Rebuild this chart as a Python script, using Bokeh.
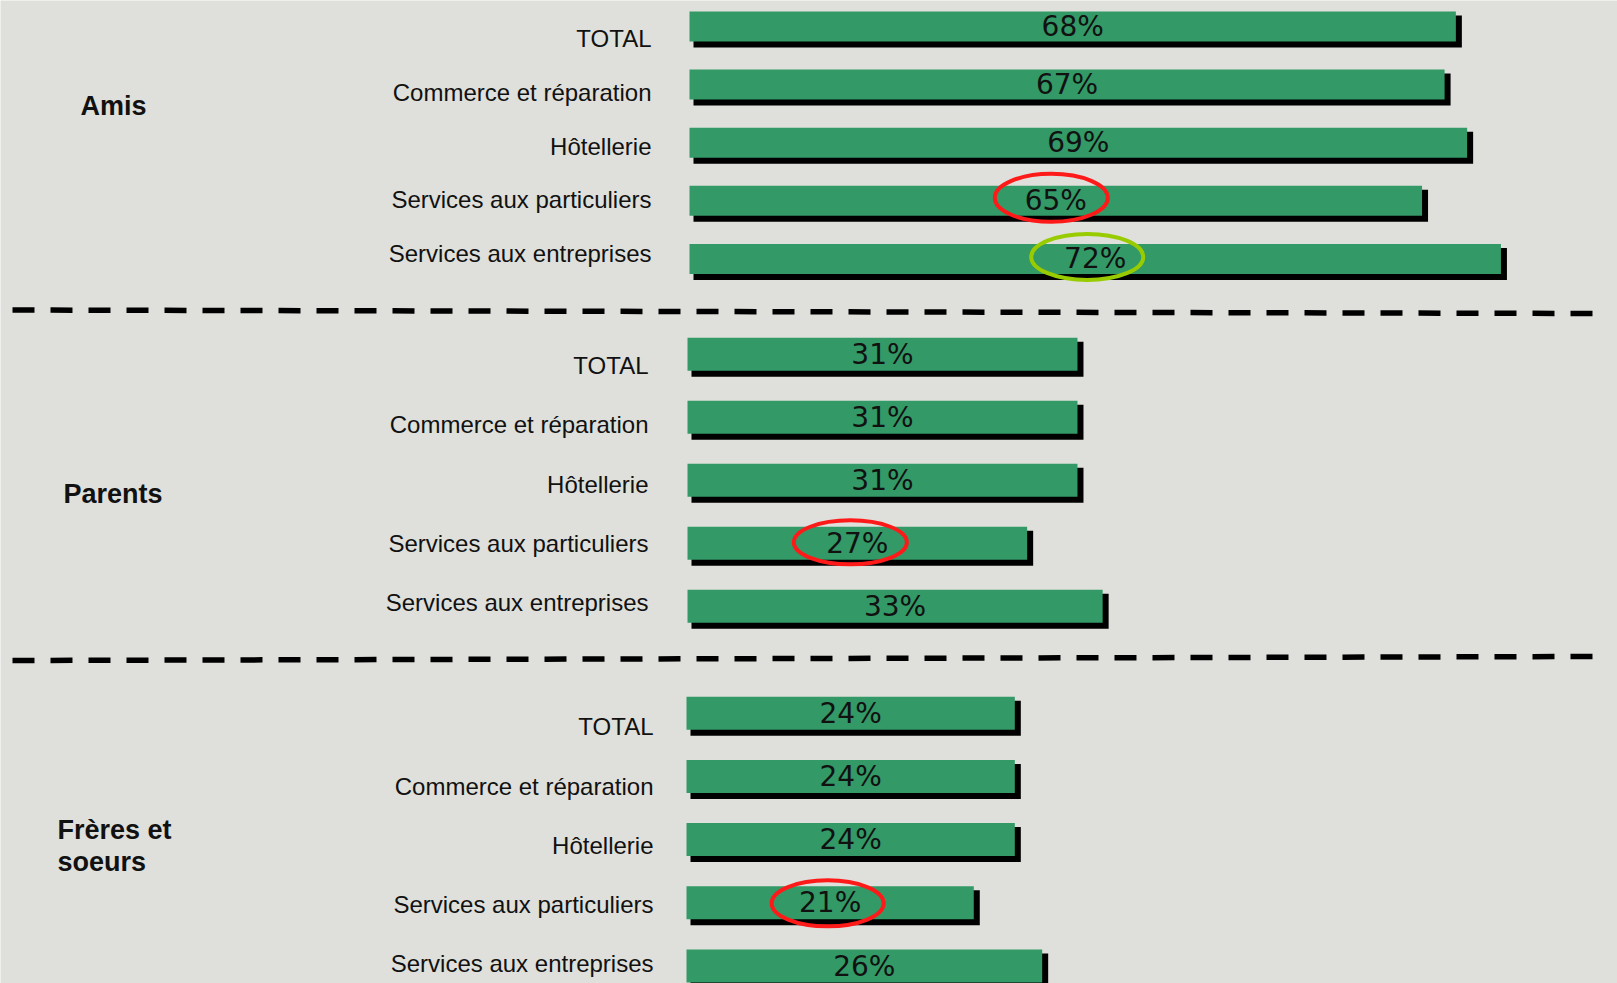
from bokeh.plotting import figure
from bokeh.models import Range1d
from bokeh.core.properties import value
from bokeh.embed import file_html
from bokeh.resources import INLINE

# ---------------- data ----------------
categories = ["TOTAL", "Commerce et réparation", "Hôtellerie",
              "Services aux particuliers", "Services aux entreprises"]
group_names = ["Amis", "Parents", "Frères et\nsoeurs"]
amis = [68, 67, 69, 65, 72]
parents = [31, 31, 31, 27, 33]
freres = [24, 24, 24, 21, 26]
series = [amis, parents, freres]
# highlighted cells: (group index, category index, colour)
highlights = [(0, 3, "#ff1a1a"), (0, 4, "#99cc00"), (1, 3, "#ff1a1a"), (2, 3, "#ff1a1a")]

# ---------------- layout (page pixels) ----------------
BG = "#dfe0db"
GREEN = "#339966"
W, H = 1617, 983
layout = [
    dict(x0=689, ppp=11.27, c0=26.0, step=58.1, bh=30,
         l0=38.0, lstep=53.75, lright=651, gx=80, gy=[105],
         sep=(12, 309.5, 1602, 313.0),
         ell=[(-4.5, -3.0, 113, 48), (-8.0, -2.0, 112, 46)]),
    dict(x0=687, ppp=12.58, c0=353.8, step=63.0, bh=33,
         l0=365.0, lstep=59.3, lright=648, gx=63, gy=[493],
         sep=(12, 660.0, 1603, 656.0),
         ell=[(-7.0, -1.0, 113, 44)]),
    dict(x0=686, ppp=13.68, c0=712.7, step=63.2, bh=33,
         l0=726.4, lstep=59.25, lright=653, gx=57, gy=[829, 861],
         sep=None,
         ell=[(-2.5, 0.5, 112, 46)]),
]

p = figure(width=W, height=H, x_range=Range1d(0, W), y_range=Range1d(H, 0),
           output_backend="svg", toolbar_location=None,
           x_axis_location=None, y_axis_location=None, min_border=0)
p.grid.visible = False
p.outline_line_color = None
p.background_fill_color = BG
p.border_fill_color = BG

for g, (vals, L) in enumerate(zip(series, layout)):
    ppp, step = L["ppp"], L["step"]
    fx = lambda px, L=L: (px - L["x0"]) / L["ppp"]          # page x -> percent
    fy = lambda py, L=L: (py - L["c0"]) / L["step"]         # page y -> row units
    xn, yn = f"x{g}", f"y{g}"
    p.extra_x_ranges[xn] = Range1d(fx(0), fx(W))
    p.extra_y_ranges[yn] = Range1d(fy(H), fy(0))
    kw = dict(x_range_name=xn, y_range_name=yn)

    rows = list(range(len(categories)))
    # shadows
    p.hbar(y=[r + 5.0 / step for r in rows], height=(L["bh"] + 2) / step,
           left=4.0 / ppp, right=[v + 6.0 / ppp for v in vals],
           fill_color="black", line_color=None, **kw)
    # bars
    p.hbar(y=rows, height=L["bh"] / step, left=0, right=vals,
           fill_color=GREEN, line_color=None, **kw)
    # value labels
    p.text(x=[v / 2 for v in vals], y=rows, text=[f"{v}%" for v in vals],
           text_align="center", text_baseline="middle",
           text_font=value("DejaVu Sans"), text_font_size="28px",
           text_color="#111111", **kw)
    # category labels
    p.text(x=fx(L["lright"]), y=[fy(L["l0"] + i * L["lstep"]) for i in rows],
           text=categories, text_align="right", text_baseline="middle",
           text_font=value("Liberation Sans"), text_font_size="24px",
           text_color="#111111", **kw)
    # group label
    lines = group_names[g].split("\n")
    p.text(x=fx(L["gx"]), y=[fy(yy) for yy in L["gy"]], text=lines,
           text_align="left", text_baseline="middle",
           text_font=value("Liberation Sans"), text_font_style="bold",
           text_font_size="27px", text_color="#111111", **kw)
    # highlight ellipses
    hl = [h for h in highlights if h[0] == g]
    for (gg, r, col), (dx, dy, ew, eh) in zip(hl, L["ell"]):
        p.ellipse(x=vals[r] / 2 + dx / ppp, y=r + dy / step, width=ew, height=eh,
                  width_units="screen", height_units="screen",
                  fill_color=None, line_color=col, line_width=4, **kw)
    # dashed separator
    if L["sep"] is not None:
        sx0, sy0, sx1, sy1 = L["sep"]
        p.segment(x0=fx(sx0), y0=fy(sy0), x1=fx(sx1), y1=fy(sy1),
                  line_color="black", line_width=5.5, line_dash="22 16", **kw)

open("out.html", "w").write(file_html(p, INLINE))
